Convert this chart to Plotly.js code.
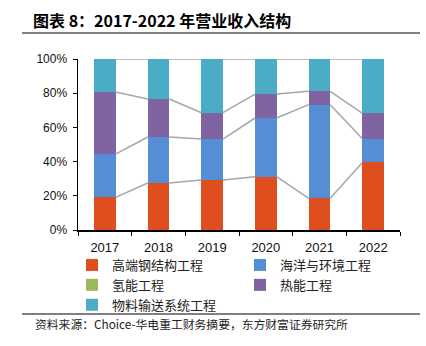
<!DOCTYPE html>
<html>
<head>
<meta charset="utf-8">
<script src="https://cdn.plot.ly/plotly-3.0.1.min.js"></script>
<style>html,body{margin:0;padding:0;background:#fff;}#chart{width:426px;height:346px;}</style>
</head>
<body>
<div id="chart"></div>
<script>
// ---- data ----
const years = ['2017', '2018', '2019', '2020', '2021', '2022'];
const seriesNames = ['高端钢结构工程', '海洋与环境工程', '氢能工程', '热能工程', '物料输送系统工程'];
const steel    = [19.1, 27.5, 29.2, 31.2, 18.5, 39.5];
const marine   = [25.3, 26.9, 24.0, 34.3, 54.8, 13.9];
const hydrogen = [0, 0, 0, 0, 0, 0];
const thermal  = [36.3, 22.2, 15.4, 14.0, 7.8, 14.8];
const material = [19.3, 23.4, 31.4, 20.5, 18.9, 31.8];
const colors = ['#DF4E1E', '#558ED5', '#9BBB59', '#8064A2', '#4BACC6'];

const allSeries = [steel, marine, hydrogen, thermal, material];
const xIdx = years.map((_, i) => i);
const barWidth = 0.4;

const traces = [];
// series lines (connect stack boundaries between adjacent bars)
const cum = years.map(() => 0);
const lineX = [], lineY = [];
allSeries.forEach((s, k) => {
  s.forEach((v, i) => cum[i] += v);
  if (k === 2) return; // hydrogen boundary coincides with marine boundary
  for (let i = 0; i < years.length - 1; i++) {
    lineX.push(i + barWidth / 2, i + 1 - barWidth / 2, null);
    lineY.push(cum[i], cum[i + 1], null);
  }
});
traces.push({
  type: 'scatter', mode: 'lines', x: lineX, y: lineY,
  line: {color: '#A6A6A6', width: 1.5}, hoverinfo: 'skip', showlegend: false
});
allSeries.forEach((s, k) => {
  traces.push({
    type: 'bar', name: seriesNames[k], x: xIdx, y: s, width: barWidth,
    marker: {color: colors[k], line: {width: 0}}
  });
});

const pl = 78, pr = 400, pt = 59, pb = 230;
const px = x => (x - pl) / (pr - pl);
const py = y => (pb - y) / (pb - pt);

const layout = {
  width: 426, height: 346,
  margin: {l: pl, r: 426 - pr, t: pt, b: 346 - pb, pad: 0, autoexpand: false},
  paper_bgcolor: '#fff', plot_bgcolor: '#fff',
  barmode: 'stack',
  font: {family: 'Liberation Sans, Arial, sans-serif', color: '#000'},
  title: {
    text: '<b>图表 8：2017-2022 年营业收入结构</b>',
    font: {family: 'Noto Sans CJK SC', size: 16, color: '#000'},
    x: 33 / 426, xanchor: 'left', xref: 'container',
    y: 1 - 21 / 346, yanchor: 'middle', yref: 'container'
  },
  xaxis: {
    range: [-0.5, 5.5], tickmode: 'array', tickvals: xIdx, ticktext: years,
    ticks: '', showline: true, linecolor: '#000', linewidth: 1.5,
    showgrid: false, zeroline: false, fixedrange: true,
    tickfont: {size: 13, color: '#111'}, ticklabelstandoff: 5,
    minor: {tick0: -0.5, dtick: 1, ticks: 'outside', ticklen: 4, tickcolor: '#000', tickwidth: 1, showgrid: false}
  },
  yaxis: {
    range: [0, 100], dtick: 20, ticksuffix: '%', ticks: 'outside', ticklen: 4,
    tickcolor: '#000', showline: true, linecolor: '#000', linewidth: 1.5,
    showgrid: false, zeroline: false, fixedrange: true,
    tickfont: {size: 12, color: '#111'}, ticklabelstandoff: 3
  },
  showlegend: true,
  legend: {
    orientation: 'h', xref: 'paper', yref: 'paper',
    x: px(72), xanchor: 'left', y: py(250), yanchor: 'top',
    entrywidth: 123, entrywidthmode: 'pixels', traceorder: 'normal',
    font: {family: 'Noto Sans CJK SC', size: 13, color: '#222'},
    bgcolor: 'rgba(0,0,0,0)', borderwidth: 0
  },
  shapes: [
    {type: 'line', xref: 'paper', yref: 'paper', x0: px(22), x1: px(420), y0: py(33), y1: py(33),
     line: {color: '#808080', width: 2}},
    {type: 'line', xref: 'paper', yref: 'paper', x0: px(22), x1: px(420), y0: py(314), y1: py(314),
     line: {color: '#808080', width: 2}}
  ],
  annotations: [
    {text: '资料来源：Choice-华电重工财务摘要，东方财富证券研究所', xref: 'paper', yref: 'paper',
     x: px(33), y: py(323), xanchor: 'left', yanchor: 'middle', showarrow: false,
     font: {family: 'Noto Sans CJK SC', size: 11.8, color: '#222'}}
  ]
};

Plotly.newPlot('chart', traces, layout, {displayModeBar: false, staticPlot: true});
</script>
</body>
</html>
